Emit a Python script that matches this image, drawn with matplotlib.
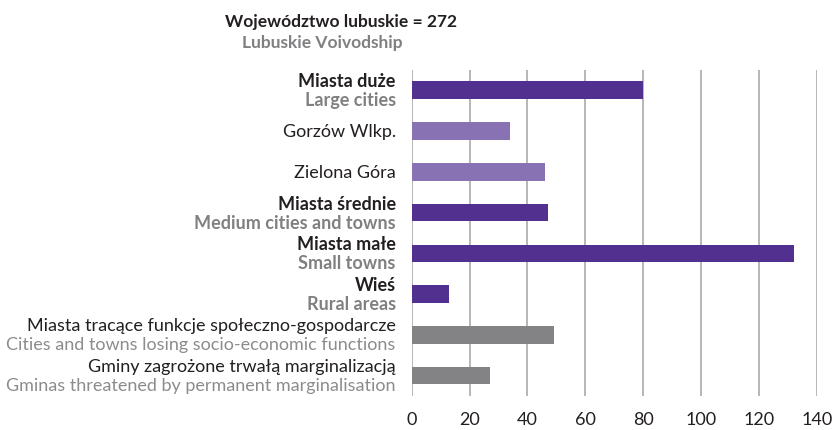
import matplotlib
matplotlib.use("Agg")
import matplotlib.pyplot as plt
from matplotlib.transforms import blended_transform_factory

# categories from top to bottom, Polish / English names
labels_pl = ["Miasta duże", "Gorzów Wlkp.", "Zielona Góra", "Miasta średnie",
             "Miasta małe", "Wieś", "Miasta tracące funkcje społeczno-gospodarcze",
             "Gminy zagrożone trwałą marginalizacją"]
labels_en = ["Large cities", None, None, "Medium cities and towns",
             "Small towns", "Rural areas", "Cities and towns losing socio-economic functions",
             "Gminas threatened by permanent marginalisation"]
values = [80, 34, 46, 47, 132, 13, 49, 27]
groups = ["main", "city", "city", "main", "main", "main", "problem", "problem"]

title_pl = "Województwo lubuskie = 272"
title_en = "Lubuskie Voivodship"
xticks = [0, 20, 40, 60, 80, 100, 120, 140]

colors = {"main": "#523090", "city": "#8872b4", "problem": "#838386"}
dark = "#231f20"
grey_bold = "#808083"
grey_light = "#8c8c8f"

plt.rcParams["font.family"] = ["Lato", "DejaVu Sans"]

fig = plt.figure(figsize=(8.32, 4.31), dpi=100)
ax = fig.add_axes([0.4948, 0.0789, 0.4872, 0.7564])

ypos = list(range(len(values)))
ax.barh(ypos, values, height=0.435, color=[colors[g] for g in groups], zorder=3)

ax.set_xlim(0, 140)
ax.set_ylim(len(values) - 0.5, -0.5)
ax.set_xticks(xticks)
ax.set_xticklabels([str(t) for t in xticks], fontsize=13, color=dark)
ax.set_yticks([])
ax.tick_params(axis="x", length=0, pad=11)
for s in ax.spines.values():
    s.set_visible(False)
ax.grid(axis="x", color="#a3a3a5", linewidth=1.1, zorder=0)

tr = blended_transform_factory(ax.transAxes, ax.transData)
lbl_size = 13
for i, (pl, en, g) in enumerate(zip(labels_pl, labels_en, groups)):
    bold = g == "main"
    if en is None:
        ax.annotate(pl, xy=(0, i), xycoords=tr, xytext=(-16, 0), textcoords="offset pixels",
                    ha="right", va="center", fontsize=lbl_size, color=dark)
        continue
    ax.annotate(pl, xy=(0, i), xycoords=tr, xytext=(-16, 9.5), textcoords="offset pixels",
                ha="right", va="center", fontsize=lbl_size, color=dark,
                fontweight="bold" if bold else "normal")
    ax.annotate(en, xy=(0, i), xycoords=tr, xytext=(-16, -9.5), textcoords="offset pixels",
                ha="right", va="center", fontsize=lbl_size,
                color=grey_bold if bold else grey_light,
                fontweight="bold" if bold else "normal")

fig.text(341 / 832, 1 - 22 / 431, title_pl, ha="center", va="center",
         fontsize=12.5, fontweight="bold", color=dark)
fig.text(322 / 832, 1 - 43 / 431, title_en, ha="center", va="center",
         fontsize=12.5, fontweight="bold", color=grey_bold)

fig.savefig("out.png", dpi=100, facecolor="white")
